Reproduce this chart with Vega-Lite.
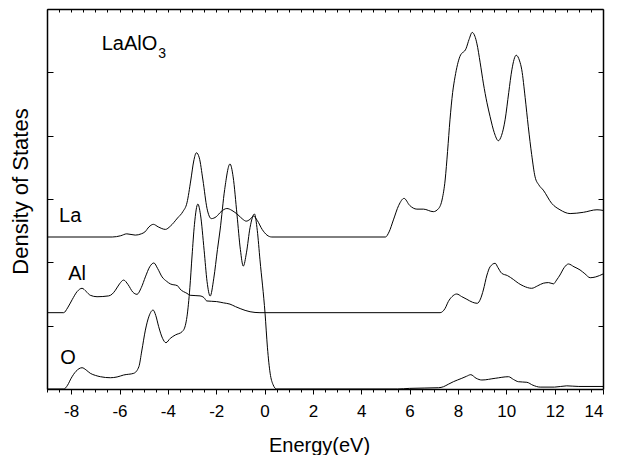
{
  "$schema": "https://vega.github.io/schema/vega-lite/v6.json",
  "width": 556,
  "height": 380,
  "autosize": {"type": "none"},
  "padding": {"left": 47, "top": 9, "right": 19, "bottom": 66},
  "background": "white",
  "config": {
    "view": {"stroke": null},
    "font": "Liberation Sans",
    "axis": {
      "grid": false,
      "domainColor": "black",
      "tickColor": "black",
      "domainWidth": 1.5,
      "tickWidth": 1,
      "labelColor": "black",
      "titleColor": "black",
      "labelFont": "Liberation Sans",
      "titleFont": "Liberation Sans",
      "titleFontWeight": "normal"
    }
  },
  "datasets": {
    "curves": [
      {"s":"La","e":-9,"d":2.40},{"s":"La","e":-6.3,"d":2.40},{"s":"La","e":-5.95,"d":2.42},{"s":"La","e":-5.7,"d":2.45},{"s":"La","e":-5.35,"d":2.43},{"s":"La","e":-5.1,"d":2.45},{"s":"La","e":-4.95,"d":2.48},{"s":"La","e":-4.78,"d":2.56},{"s":"La","e":-4.6,"d":2.60},{"s":"La","e":-4.4,"d":2.56},{"s":"La","e":-4.1,"d":2.52},{"s":"La","e":-3.9,"d":2.57},{"s":"La","e":-3.6,"d":2.70},{"s":"La","e":-3.38,"d":2.80},{"s":"La","e":-3.21,"d":2.94},{"s":"La","e":-3.05,"d":3.30},{"s":"La","e":-2.93,"d":3.60},{"s":"La","e":-2.82,"d":3.73},{"s":"La","e":-2.7,"d":3.65},{"s":"La","e":-2.55,"d":3.30},{"s":"La","e":-2.38,"d":2.85},{"s":"La","e":-2.2,"d":2.69},{"s":"La","e":-2.0,"d":2.72},{"s":"La","e":-1.8,"d":2.80},{"s":"La","e":-1.56,"d":2.85},{"s":"La","e":-1.35,"d":2.82},{"s":"La","e":-1.1,"d":2.75},{"s":"La","e":-0.9,"d":2.68},{"s":"La","e":-0.76,"d":2.65},{"s":"La","e":-0.6,"d":2.68},{"s":"La","e":-0.46,"d":2.73},{"s":"La","e":-0.3,"d":2.66},{"s":"La","e":-0.1,"d":2.52},{"s":"La","e":0.1,"d":2.43},{"s":"La","e":0.3,"d":2.40},{"s":"La","e":5.0,"d":2.40},{"s":"La","e":5.15,"d":2.48},{"s":"La","e":5.33,"d":2.67},{"s":"La","e":5.55,"d":2.90},{"s":"La","e":5.77,"d":3.01},{"s":"La","e":6.0,"d":2.90},{"s":"La","e":6.3,"d":2.84},{"s":"La","e":6.57,"d":2.84},{"s":"La","e":6.98,"d":2.80},{"s":"La","e":7.2,"d":2.85},{"s":"La","e":7.35,"d":3.0},{"s":"La","e":7.47,"d":3.30},{"s":"La","e":7.57,"d":3.75},{"s":"La","e":7.67,"d":4.25},{"s":"La","e":7.78,"d":4.68},{"s":"La","e":7.88,"d":4.93},{"s":"La","e":8.08,"d":5.25},{"s":"La","e":8.34,"d":5.38},{"s":"La","e":8.46,"d":5.52},{"s":"La","e":8.59,"d":5.63},{"s":"La","e":8.7,"d":5.57},{"s":"La","e":8.78,"d":5.46},{"s":"La","e":8.92,"d":5.15},{"s":"La","e":9.05,"d":4.83},{"s":"La","e":9.2,"d":4.52},{"s":"La","e":9.33,"d":4.30},{"s":"La","e":9.5,"d":4.05},{"s":"La","e":9.67,"d":3.92},{"s":"La","e":9.8,"d":4.0},{"s":"La","e":9.95,"d":4.25},{"s":"La","e":10.1,"d":4.68},{"s":"La","e":10.23,"d":5.04},{"s":"La","e":10.41,"d":5.27},{"s":"La","e":10.55,"d":5.18},{"s":"La","e":10.64,"d":5.04},{"s":"La","e":10.78,"d":4.60},{"s":"La","e":10.91,"d":4.14},{"s":"La","e":11.05,"d":3.70},{"s":"La","e":11.19,"d":3.35},{"s":"La","e":11.35,"d":3.22},{"s":"La","e":11.53,"d":3.14},{"s":"La","e":11.88,"d":2.93},{"s":"La","e":12.22,"d":2.83},{"s":"La","e":12.64,"d":2.77},{"s":"La","e":13.19,"d":2.79},{"s":"La","e":13.75,"d":2.83},{"s":"La","e":14,"d":2.82},
      {"s":"Al","e":-9,"d":1.205},{"s":"Al","e":-8.31,"d":1.205},{"s":"Al","e":-8.15,"d":1.28},{"s":"Al","e":-7.96,"d":1.41},{"s":"Al","e":-7.75,"d":1.54},{"s":"Al","e":-7.55,"d":1.59},{"s":"Al","e":-7.38,"d":1.54},{"s":"Al","e":-7.21,"d":1.48},{"s":"Al","e":-6.93,"d":1.457},{"s":"Al","e":-6.45,"d":1.47},{"s":"Al","e":-6.3,"d":1.50},{"s":"Al","e":-6.17,"d":1.56},{"s":"Al","e":-6.0,"d":1.66},{"s":"Al","e":-5.83,"d":1.72},{"s":"Al","e":-5.65,"d":1.65},{"s":"Al","e":-5.45,"d":1.53},{"s":"Al","e":-5.28,"d":1.495},{"s":"Al","e":-5.1,"d":1.60},{"s":"Al","e":-4.93,"d":1.77},{"s":"Al","e":-4.75,"d":1.93},{"s":"Al","e":-4.58,"d":1.99},{"s":"Al","e":-4.42,"d":1.90},{"s":"Al","e":-4.24,"d":1.77},{"s":"Al","e":-4.05,"d":1.70},{"s":"Al","e":-3.9,"d":1.66},{"s":"Al","e":-3.6,"d":1.63},{"s":"Al","e":-3.5,"d":1.58},{"s":"Al","e":-3.21,"d":1.51},{"s":"Al","e":-3.08,"d":1.48},{"s":"Al","e":-2.67,"d":1.47},{"s":"Al","e":-2.5,"d":1.44},{"s":"Al","e":-2.39,"d":1.39},{"s":"Al","e":-1.98,"d":1.38},{"s":"Al","e":-1.7,"d":1.36},{"s":"Al","e":-1.43,"d":1.34},{"s":"Al","e":-1.2,"d":1.30},{"s":"Al","e":-1.01,"d":1.27},{"s":"Al","e":-0.6,"d":1.22},{"s":"Al","e":-0.19,"d":1.205},{"s":"Al","e":7.26,"d":1.205},{"s":"Al","e":7.47,"d":1.274},{"s":"Al","e":7.6,"d":1.38},{"s":"Al","e":7.75,"d":1.457},{"s":"Al","e":7.95,"d":1.50},{"s":"Al","e":8.15,"d":1.46},{"s":"Al","e":8.37,"d":1.416},{"s":"Al","e":8.6,"d":1.37},{"s":"Al","e":8.8,"d":1.353},{"s":"Al","e":8.93,"d":1.42},{"s":"Al","e":9.05,"d":1.563},{"s":"Al","e":9.2,"d":1.80},{"s":"Al","e":9.33,"d":1.93},{"s":"Al","e":9.54,"d":1.985},{"s":"Al","e":9.65,"d":1.92},{"s":"Al","e":9.81,"d":1.827},{"s":"Al","e":10.05,"d":1.79},{"s":"Al","e":10.29,"d":1.73},{"s":"Al","e":10.5,"d":1.67},{"s":"Al","e":10.71,"d":1.626},{"s":"Al","e":11.05,"d":1.59},{"s":"Al","e":11.3,"d":1.63},{"s":"Al","e":11.53,"d":1.67},{"s":"Al","e":11.75,"d":1.68},{"s":"Al","e":11.95,"d":1.66},{"s":"Al","e":12.08,"d":1.72},{"s":"Al","e":12.22,"d":1.80},{"s":"Al","e":12.4,"d":1.92},{"s":"Al","e":12.57,"d":1.974},{"s":"Al","e":12.8,"d":1.93},{"s":"Al","e":13.05,"d":1.88},{"s":"Al","e":13.25,"d":1.82},{"s":"Al","e":13.47,"d":1.757},{"s":"Al","e":13.7,"d":1.77},{"s":"Al","e":14,"d":1.816},
      {"s":"O","e":-9,"d":0},{"s":"O","e":-8.3,"d":0},{"s":"O","e":-8.15,"d":0.06},{"s":"O","e":-8.0,"d":0.17},{"s":"O","e":-7.8,"d":0.28},{"s":"O","e":-7.55,"d":0.336},{"s":"O","e":-7.38,"d":0.30},{"s":"O","e":-7.21,"d":0.248},{"s":"O","e":-7.0,"d":0.215},{"s":"O","e":-6.79,"d":0.194},{"s":"O","e":-6.38,"d":0.178},{"s":"O","e":-6.1,"d":0.19},{"s":"O","e":-5.83,"d":0.221},{"s":"O","e":-5.41,"d":0.248},{"s":"O","e":-5.2,"d":0.352},{"s":"O","e":-5.08,"d":0.60},{"s":"O","e":-4.93,"d":0.93},{"s":"O","e":-4.78,"d":1.15},{"s":"O","e":-4.61,"d":1.247},{"s":"O","e":-4.5,"d":1.16},{"s":"O","e":-4.38,"d":0.984},{"s":"O","e":-4.22,"d":0.80},{"s":"O","e":-4.08,"d":0.731},{"s":"O","e":-3.9,"d":0.80},{"s":"O","e":-3.69,"d":0.853},{"s":"O","e":-3.41,"d":0.905},{"s":"O","e":-3.28,"d":1.0},{"s":"O","e":-3.21,"d":1.14},{"s":"O","e":-3.09,"d":1.60},{"s":"O","e":-3.0,"d":2.1},{"s":"O","e":-2.9,"d":2.6},{"s":"O","e":-2.76,"d":2.92},{"s":"O","e":-2.65,"d":2.75},{"s":"O","e":-2.5,"d":2.19},{"s":"O","e":-2.38,"d":1.70},{"s":"O","e":-2.25,"d":1.468},{"s":"O","e":-2.1,"d":1.75},{"s":"O","e":-1.95,"d":2.2},{"s":"O","e":-1.84,"d":2.51},{"s":"O","e":-1.65,"d":3.15},{"s":"O","e":-1.43,"d":3.553},{"s":"O","e":-1.3,"d":3.35},{"s":"O","e":-1.14,"d":2.75},{"s":"O","e":-1.0,"d":2.20},{"s":"O","e":-0.88,"d":1.94},{"s":"O","e":-0.75,"d":2.15},{"s":"O","e":-0.6,"d":2.55},{"s":"O","e":-0.42,"d":2.763},{"s":"O","e":-0.3,"d":2.5},{"s":"O","e":-0.19,"d":2.04},{"s":"O","e":0.02,"d":1.195},{"s":"O","e":0.12,"d":0.65},{"s":"O","e":0.23,"d":0.25},{"s":"O","e":0.35,"d":0.07},{"s":"O","e":0.5,"d":0},{"s":"O","e":5.5,"d":0},{"s":"O","e":6.0,"d":0.01},{"s":"O","e":7.2,"d":0.02},{"s":"O","e":7.4,"d":0.036},{"s":"O","e":7.6,"d":0.075},{"s":"O","e":7.81,"d":0.115},{"s":"O","e":8.16,"d":0.169},{"s":"O","e":8.35,"d":0.20},{"s":"O","e":8.53,"d":0.226},{"s":"O","e":8.75,"d":0.17},{"s":"O","e":8.99,"d":0.142},{"s":"O","e":9.54,"d":0.169},{"s":"O","e":10.09,"d":0.194},{"s":"O","e":10.3,"d":0.15},{"s":"O","e":10.5,"d":0.115},{"s":"O","e":10.85,"d":0.106},{"s":"O","e":11.1,"d":0.06},{"s":"O","e":11.4,"d":0.03},{"s":"O","e":12.0,"d":0.03},{"s":"O","e":12.5,"d":0.05},{"s":"O","e":13.0,"d":0.04},{"s":"O","e":14,"d":0.04}
    ],
    "labels": [
      {"t":"La","e":-8.5,"d":2.63},
      {"t":"Al","e":-8.12,"d":1.72},
      {"t":"O","e":-8.45,"d":0.395},
      {"t":"LaAlO","e":-6.74,"d":5.35}
    ],
    "sub": [
      {"t":"3","e":-4.40,"d":5.22}
    ]
  },
  "layer": [
    {
      "data": {"name": "curves"},
      "mark": {"type": "line", "color": "black", "strokeWidth": 1, "interpolate": "monotone"},
      "encoding": {
        "x": {
          "field": "e", "type": "quantitative",
          "scale": {"domain": [-9, 14], "nice": false, "zero": false},
          "axis": {
            "orient": "bottom",
            "values": [-9,-8.5,-8,-7.5,-7,-6.5,-6,-5.5,-5,-4.5,-4,-3.5,-3,-2.5,-2,-1.5,-1,-0.5,0,0.5,1,1.5,2,2.5,3,3.5,4,4.5,5,5.5,6,6.5,7,7.5,8,8.5,9,9.5,10,10.5,11,11.5,12,12.5,13,13.5,14],
            "labelExpr": "datum.value % 2 === 0 ? '' + datum.value : ''",
            "tickSize": {"condition": {"test": "datum.value % 2 === 0", "value": 5}, "value": 3},
            "labelFontSize": 17,
            "labelPadding": 9,
            "labelOverlap": false,
            "title": "Energy(eV)",
            "titleFontSize": 20,
            "titleBaseline": "alphabetic",
            "titleY": 62,
            "titleX": 272
          }
        },
        "y": {
          "field": "d", "type": "quantitative",
          "scale": {"domain": [0, 6], "nice": false},
          "axis": {
            "orient": "left",
            "values": [0,1,2,3,4,5,6],
            "labels": false,
            "tickSize": -6,
            "title": "Density of States",
            "titleFontSize": 22,
            "titleBaseline": "alphabetic",
            "titleX": -20,
            "titleY": 182
          }
        },
        "detail": {"field": "s"}
      }
    },
    {
      "data": {"name": "curves"},
      "mark": {"type": "line", "opacity": 0},
      "encoding": {
        "x": {
          "field": "e", "type": "quantitative",
          "axis": {
            "orient": "top",
            "values": [-9,-8.5,-8,-7.5,-7,-6.5,-6,-5.5,-5,-4.5,-4,-3.5,-3,-2.5,-2,-1.5,-1,-0.5,0,0.5,1,1.5,2,2.5,3,3.5,4,4.5,5,5.5,6,6.5,7,7.5,8,8.5,9,9.5,10,10.5,11,11.5,12,12.5,13,13.5,14],
            "labels": false,
            "tickSize": -3,
            "title": null
          }
        },
        "y": {
          "field": "d", "type": "quantitative",
          "axis": {
            "orient": "right",
            "values": [1,2,3,4,5],
            "labels": false,
            "tickSize": -5,
            "title": null
          }
        },
        "detail": {"field": "s"}
      }
    },
    {
      "data": {"name": "labels"},
      "mark": {"type": "text", "align": "left", "baseline": "alphabetic", "fontSize": 20, "font": "Liberation Sans", "color": "black"},
      "encoding": {
        "x": {"field": "e", "type": "quantitative", "axis": null},
        "y": {"field": "d", "type": "quantitative", "axis": null},
        "text": {"field": "t"}
      }
    },
    {
      "data": {"name": "sub"},
      "mark": {"type": "text", "align": "left", "baseline": "alphabetic", "fontSize": 14, "font": "Liberation Sans", "color": "black"},
      "encoding": {
        "x": {"field": "e", "type": "quantitative", "axis": null},
        "y": {"field": "d", "type": "quantitative", "axis": null},
        "text": {"field": "t"}
      }
    }
  ],
  "resolve": {"axis": {"x": "independent", "y": "independent"}}
}
